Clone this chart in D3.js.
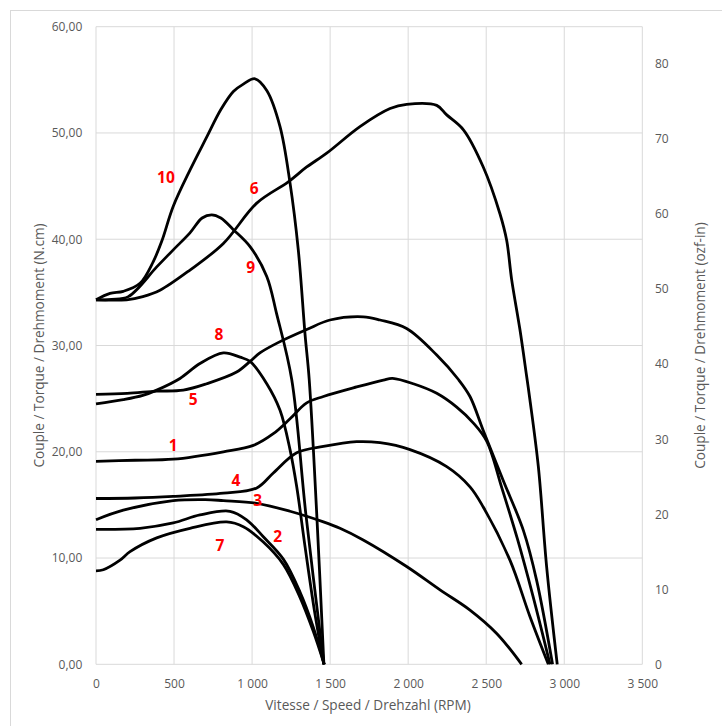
<!DOCTYPE html>
<html>
<head>
<meta charset="utf-8">
<script src="https://cdn.jsdelivr.net/npm/d3@7"></script>
<style>
  body { margin: 0; background: #fff; }
  text { font-family: "Open Sans", sans-serif; }
</style>
</head>
<body>
<div id="my_dataviz"></div>
<script>
// Torque curves, each point is [rpm, N.cm]
var curve1 = [[0,19.1],[250,19.2],[495,19.3],[816,20.0],[1008,20.6],[1136,21.7],[1243,23.1],[1350,24.6],[1457,25.2],[1670,26.1],[1841,26.75],[1900,26.9],[2033,26.4],[2183,25.5],[2311,24.2],[2418,22.7],[2503,21.0],[2600,16.6],[2700,11.8],[2800,6.4],[2909,0]];
var curve2 = [[0,12.7],[282,12.8],[495,13.3],[666,14.05],[858,14.4],[965,13.6],[1072,12.0],[1200,9.9],[1307,6.8],[1392,3.5],[1462,0]];
var curve3 = [[0,13.6],[175,14.5],[495,15.4],[700,15.5],[816,15.4],[1030,15.15],[1243,14.4],[1457,13.4],[1563,12.8],[1712,11.7],[1990,9.2],[2204,7.0],[2396,5.1],[2567,2.9],[2727,0]];
var curve4 = [[0,15.6],[250,15.65],[495,15.8],[816,16.1],[1030,16.6],[1136,18.0],[1286,19.9],[1457,20.5],[1670,20.95],[1820,20.85],[2012,20.2],[2247,18.6],[2396,16.7],[2481,14.8],[2652,9.8],[2780,4.5],[2898,0]];
var curve5 = [[0,25.4],[200,25.5],[389,25.7],[559,25.8],[709,26.4],[901,27.5],[987,28.5],[1050,29.3],[1157,30.2],[1350,31.5],[1499,32.4],[1712,32.7],[1820,32.4],[1990,31.6],[2183,29.1],[2322,26.8],[2396,25.2],[2481,22.0],[2609,17.3],[2738,12.6],[2823,7.9],[2925,0]];
var curve6 = [[0,34.3],[196,34.3],[300,34.6],[410,35.2],[602,37.1],[816,39.6],[1030,43.4],[1232,45.4],[1350,46.8],[1478,48.1],[1691,50.6],[1884,52.3],[1990,52.7],[2183,52.6],[2247,51.7],[2354,50.3],[2481,46.8],[2588,42.4],[2631,39.9],[2663,36.2],[2716,31.5],[2759,27.1],[2780,24.9],[2834,18.6],[2887,9.2],[2955,0]];
var curve7 = [[0,8.8],[47,8.9],[154,9.8],[218,10.6],[389,11.9],[602,12.8],[837,13.4],[944,12.95],[1072,11.5],[1200,9.4],[1307,6.3],[1392,3.1],[1462,0]];
var curve8 = [[0,24.5],[175,24.9],[300,25.3],[389,25.8],[538,26.9],[666,28.3],[816,29.3],[923,28.9],[987,28.5],[1094,26.4],[1179,23.9],[1243,20.2],[1286,16.7],[1340,11.0],[1400,5.0],[1460,0]];
var curve9 = [[0,34.3],[100,34.35],[207,34.6],[389,37.4],[495,39.0],[602,40.6],[680,42.0],[741,42.3],[800,42.0],[880,40.9],[987,39.3],[1094,36.5],[1157,33.0],[1254,26.8],[1344,14.2],[1460,0]];
var curve10 = [[0,34.3],[90,34.9],[175,35.1],[282,35.85],[367,37.9],[421,39.8],[495,43.1],[602,46.5],[709,49.6],[800,52.2],[880,53.9],[944,54.6],[1019,55.1],[1094,54.0],[1179,50.6],[1243,45.3],[1296,39.0],[1339,31.1],[1366,26.8],[1414,14.2],[1460,0]];

var curves = [curve1, curve2, curve3, curve4, curve5, curve6, curve7, curve8, curve9, curve10];

// Red curve numbers, placed in data units
var labelNames  = ["1", "2", "3", "4", "5", "6", "7", "8", "9", "10"];
var labelRpm    = [495, 1164, 1036, 897, 623, 1014, 794, 788, 991, 448];
var labelTorque = [20.6, 12.0, 15.4, 17.3, 24.9, 44.8, 11.2, 31.05, 37.3, 45.8];

// Tick labels
var xTicks  = [0, 500, 1000, 1500, 2000, 2500, 3000, 3500];
var yTicks  = [0, 10, 20, 30, 40, 50, 60];
var ozTicks = [0, 10, 20, 30, 40, 50, 60, 70, 80];

var NCM_TO_OZIN = 1.41612;

var W = 722, H = 726;
var margin = { top: 26.7, right: 79.7, bottom: 61.7, left: 96 },
    width = W - margin.left - margin.right,
    height = H - margin.top - margin.bottom;

var frLocale = d3.formatLocale({ decimal: ",", thousands: "\u00a0", grouping: [3], currency: ["", ""] });
var fmtRpm = frLocale.format(",d");
var fmtNcm = frLocale.format(".2f");

var svg = d3.select("#my_dataviz")
  .append("svg")
  .attr("width", W)
  .attr("height", H);

// chart area frame (only top and left edges show inside the window)
svg.append("rect")
  .attr("x", 10.5)
  .attr("y", 10.5)
  .attr("width", 730)
  .attr("height", 730)
  .attr("fill", "none")
  .attr("stroke", "#d9d9d9");

var g = svg.append("g")
  .attr("transform", "translate(" + margin.left + "," + margin.top + ")");

var x = d3.scaleLinear().domain([0, 3500]).range([0, width]);
var y = d3.scaleLinear().domain([0, 60]).range([height, 0]);
var yOz = d3.scaleLinear().domain([0, 60 * NCM_TO_OZIN]).range([height, 0]);

// gridlines
g.append("g").selectAll("line")
  .data(xTicks)
  .enter().append("line")
    .attr("x1", d => x(d)).attr("x2", d => x(d))
    .attr("y1", 0).attr("y2", height)
    .attr("stroke", "#d9d9d9");

g.append("g").selectAll("line")
  .data(yTicks)
  .enter().append("line")
    .attr("x1", 0).attr("x2", width)
    .attr("y1", d => y(d)).attr("y2", d => y(d))
    .attr("stroke", "#d9d9d9");

// axes, tick labels only
function styleAxis(sel) {
  sel.select(".domain").remove();
  sel.selectAll("text")
    .style("font-family", "'Open Sans', sans-serif")
    .style("font-size", "12px")
    .attr("fill", "#595959");
}

g.append("g")
  .attr("transform", "translate(0," + height + ")")
  .call(d3.axisBottom(x).tickValues(xTicks).tickSize(0).tickPadding(15).tickFormat(fmtRpm))
  .call(styleAxis);

g.append("g")
  .call(d3.axisLeft(y).tickValues(yTicks).tickSize(0).tickPadding(13.7).tickFormat(fmtNcm))
  .call(styleAxis);

g.append("g")
  .attr("transform", "translate(" + width + ",0)")
  .call(d3.axisRight(yOz).tickValues(ozTicks).tickSize(0).tickPadding(12.7).tickFormat(d3.format("d")))
  .call(styleAxis);

// axis titles
var titleSize = "13.6px";

svg.append("text")
  .attr("x", 368)
  .attr("y", 710)
  .attr("text-anchor", "middle")
  .style("font-size", titleSize)
  .attr("fill", "#595959")
  .text("Vitesse / Speed / Drehzahl (RPM)");

svg.append("text")
  .attr("transform", "translate(44," + (margin.top + height / 2) + ") rotate(-90)")
  .attr("text-anchor", "middle")
  .style("font-size", titleSize)
  .attr("fill", "#595959")
  .text("Couple / Torque / Drehmoment (N.cm)");

svg.append("text")
  .attr("transform", "translate(705," + (margin.top + height / 2) + ") rotate(-90)")
  .attr("text-anchor", "middle")
  .style("font-size", titleSize)
  .attr("fill", "#595959")
  .text("Couple / Torque / Drehmoment (ozf-in)");

// the curves, smoothed like the spreadsheet lines
var line = d3.line()
  .x(d => x(d[0]))
  .y(d => y(d[1]))
  .curve(d3.curveCatmullRom.alpha(0.5));

g.selectAll(".curve")
  .data(curves)
  .enter()
  .append("path")
    .attr("class", "curve")
    .attr("fill", "none")
    .attr("stroke", "#000")
    .attr("stroke-width", 2.8)
    .attr("stroke-linejoin", "round")
    .attr("d", d => line(d));

// curve numbers
g.selectAll(".num")
  .data(labelNames)
  .enter()
  .append("text")
    .attr("class", "num")
    .attr("x", (d, i) => x(labelRpm[i]))
    .attr("y", (d, i) => y(labelTorque[i]))
    .attr("dy", "0.36em")
    .attr("text-anchor", "middle")
    .attr("fill", "#ff0000")
    .style("font-size", "15.5px")
    .style("font-weight", "bold")
    .text(d => d);
</script>
</body>
</html>
